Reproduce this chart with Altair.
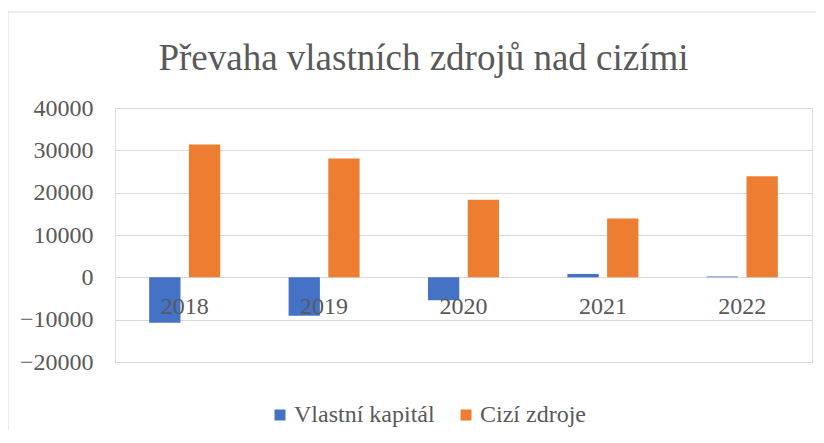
import altair as alt
import pandas as pd

years = ["2018", "2019", "2020", "2021", "2022"]
series = ["Vlastní kapitál", "Cizí zdroje"]
vlastni_kapital = [-10700, -9100, -5400, 800, 200]
cizi_zdroje = [31400, 28100, 18300, 13900, 23900]
y_ticks = [-20000, -10000, 0, 10000, 20000, 30000, 40000]
colors = ["#4472C4", "#ED7D31"]

rows = []
for i, yr in enumerate(years):
    rows.append({"rok": yr, "serie": series[0], "hodnota": vlastni_kapital[i]})
    rows.append({"rok": yr, "serie": series[1], "hodnota": cizi_zdroje[i]})
df = pd.DataFrame(rows)

FONT = "Liberation Serif"
TXT = "#595959"
GRID = "#D9D9D9"

bars = alt.Chart(df).mark_bar().encode(
    x=alt.X("rok:N", sort=years,
            scale=alt.Scale(paddingInner=0, paddingOuter=0),
            axis=alt.Axis(title=None, labelAngle=0, domain=False, ticks=False, tickSize=0,
                          grid=False, labelFontSize=24, labelFont=FONT, labelColor=TXT,
                          offset=-84, labelPadding=16, zindex=1)),
    xOffset=alt.XOffset("serie:N", sort=series,
                        scale=alt.Scale(paddingInner=0.212, paddingOuter=0.861)),
    y=alt.Y("hodnota:Q",
            scale=alt.Scale(domain=[-20000, 40000], nice=False),
            axis=alt.Axis(title=None, values=y_ticks, format="d", domain=False, ticks=False,
                          tickSize=0, labelPadding=22, labelFontSize=24, labelFont=FONT,
                          labelColor=TXT, gridColor=GRID, gridWidth=1, zindex=0)),
    color=alt.Color("serie:N", sort=series,
                    scale=alt.Scale(domain=series, range=colors),
                    legend=alt.Legend(title=None, orient="none", legendX=153, legendY=295,
                                      direction="horizontal", symbolType="square",
                                      symbolSize=121, symbolStrokeWidth=0,
                                      labelFontSize=24, labelFont=FONT, labelColor=TXT,
                                      labelOffset=2, columnPadding=19)),
)

border_src = alt.Data(values=[{"k": 1}])
top_line = alt.Chart(border_src).mark_rule(color=GRID, strokeWidth=1).encode(
    x=alt.value(-107), x2=alt.value(701), y=alt.value(-96))
left_line = alt.Chart(border_src).mark_rule(color=GRID, strokeWidth=1).encode(
    x=alt.value(-107), y=alt.value(-96), y2=alt.value(330))

chart = alt.layer(bars, top_line, left_line).properties(
    width=697, height=254,
    autosize=alt.AutoSizeParams(type="none"),
    padding={"left": 107, "top": 100, "right": 4, "bottom": 68},
    title=alt.TitleParams("Převaha vlastních zdrojů nad cizími", fontSize=37, font=FONT,
                          color=TXT, fontWeight="normal", anchor="middle", frame="group",
                          dx=-40, dy=121, offset=26, baseline="alphabetic"),
).configure_view(stroke=None).configure(background="white", font=FONT)

chart.save("out.html", embed_options={"renderer": "svg", "actions": False})
